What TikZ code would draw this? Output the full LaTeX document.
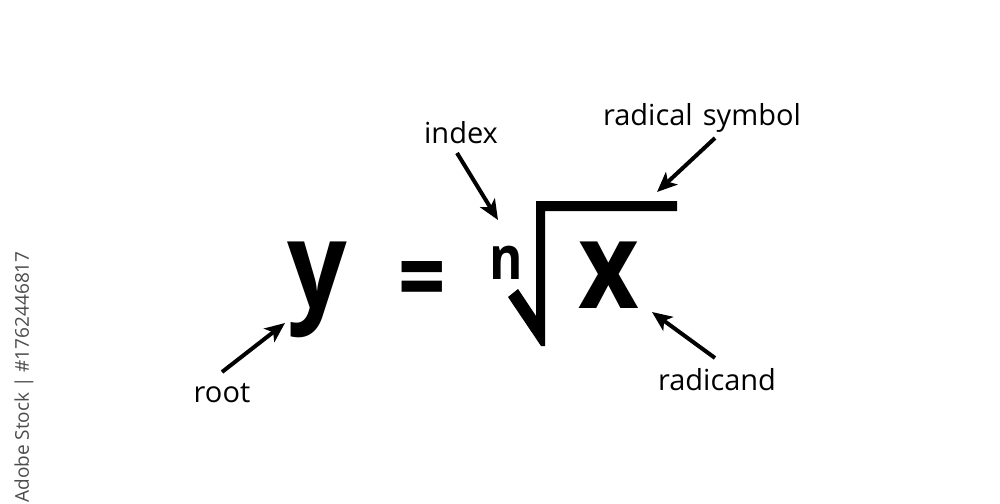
\documentclass[tikz,border=0pt]{standalone}
\usepackage{fontspec}
\setmainfont{Open Sans}
\usetikzlibrary{arrows.meta}
\begin{document}
\begin{tikzpicture}[x=0.5pt,y=-0.5pt,
  lbl/.style={inner sep=0pt,anchor=base,font=\fontsize{14.5}{16}\selectfont},
  big/.style={inner sep=0pt,anchor=base west,font=\fontsize{61}{64}\bfseries\selectfont},
  arr/.style={line width=2pt,-{Stealth[length=10pt,width=8.5pt,inset=2.5pt]}}]
\useasboundingbox[fill=white] (0,0) rectangle (1000,503);
% watermark id
\node[rotate=90,inner sep=0pt,text=black!70,font=\fontsize{9.5}{11}\selectfont] (wm) at (24,377) {Adobe Stock | \#1762446817};
% equation
\node[big] (y) at (287,308) {\scalebox{0.86}[1]{y}};
\node[big,anchor=base,font=\fontsize{52}{56}\bfseries\selectfont] (eq) at (422,313) {\scalebox{0.8}[1]{=}};
\node[inner sep=0pt,anchor=base west,font=\fontsize{30}{33}\bfseries\selectfont] (n) at (489,279) {\scalebox{0.85}[1]{n}};
\node[big] (x) at (578,308) {\scalebox{0.86}[1]{x}};
% radical symbol
\fill (508,297) -- (518,289) -- (536,316) -- (536,201) -- (677,201) -- (677,211)
  -- (545,211) -- (545,346) -- (541,346) -- cycle;
\coordinate (rad) at (657,192);
% labels
\node[lbl] (index) at (461,143) {index};
\node[lbl] (radsym) at (702,125) {radical\hspace{0.35em}symbol};
\node[lbl] (root) at (222,402) {root};
\node[lbl] (radicand) at (717,390) {radicand};
% arrow ends
\coordinate (rootT) at (222,372);
\coordinate (rootH) at (285,323);
\coordinate (indexT) at (457,153);
\coordinate (indexH) at (498,220);
\coordinate (radsymT) at (715,138);
\coordinate (radicandT) at (715,358);
\coordinate (radicandH) at (652,312);
\draw[arr] (rootT) -- (rootH);
\draw[arr] (indexT) -- (indexH);
\draw[arr] (radsymT) -- (rad);
\draw[arr] (radicandT) -- (radicandH);
\end{tikzpicture}
\end{document}
